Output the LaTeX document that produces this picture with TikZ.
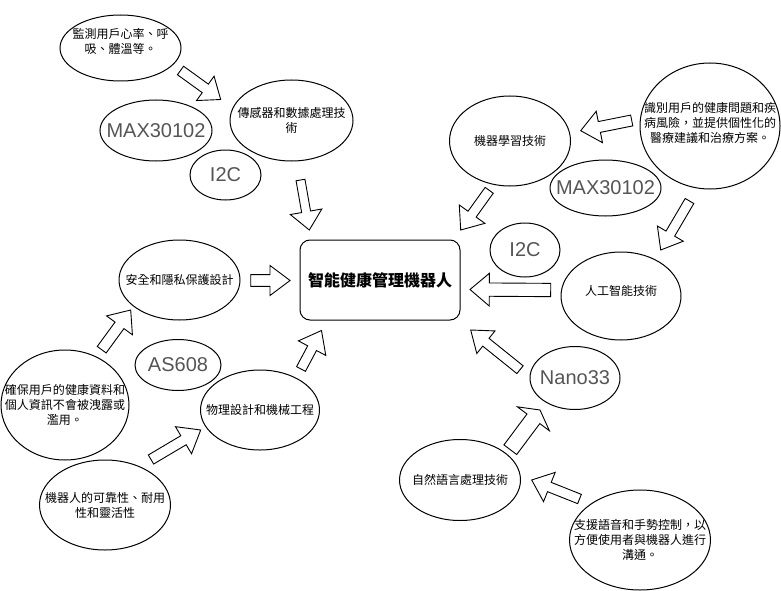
\documentclass[tikz,border=0pt]{standalone}
\usepackage{fontspec}
\setmainfont{Liberation Sans}
\newfontfamily\cjk{Noto Sans CJK TC}
\usetikzlibrary{shapes.geometric,calc}
\definecolor{codegray}{HTML}{555555}
\newcommand\blockarrow[5]{%
  \coordinate (bah) at ($(#2)!#5pt!(#1)$);
  \draw[barrow] ($(#1)!#3*0.5pt!90:(#2)$) -- ($(bah)!#3*0.5pt!90:(#2)$)
    -- ($(bah)!#4*0.5pt!90:(#2)$) -- (#2) -- ($(bah)!#4*0.5pt!-90:(#2)$)
    -- ($(bah)!#3*0.5pt!-90:(#2)$) -- ($(#1)!#3*0.5pt!-90:(#2)$) -- cycle;}
\begin{document}
\begin{tikzpicture}[x=1pt,y=-1pt,
  ell/.style={draw=black, line width=1pt, ellipse, inner sep=0pt},
  txt/.style={font=\cjk\fontsize{12}{15}\selectfont, align=center, inner sep=0pt, text=black},
  code/.style={font=\fontsize{20}{24}\selectfont, text=codegray, inner sep=0pt},
  barrow/.style={draw=black, fill=white, line width=0.9pt, line join=miter}]
\useasboundingbox (0,0) rectangle (781,591);

% ellipses
\node[ell, minimum width=121pt, minimum height=66pt,
  label={[txt,yshift=7pt]center:{監測用戶心率、呼\\吸、體溫等。}}] (e1) at (120.5,48) {};
\node[ell, minimum width=123pt, minimum height=81pt,
  label={[txt]center:{傳感器和數據處理技\\術}}] (e2) at (291.5,120.5) {};
\node[ell, minimum width=112pt, minimum height=61pt,
  label={[code]center:MAX30102}] (m1) at (156,130.5) {};
\node[ell, minimum width=71pt, minimum height=50pt,
  label={[code]center:I2C}] (i1) at (225.5,175) {};
\node[ell, minimum width=121pt, minimum height=80pt,
  label={[txt]center:{安全和隱私保護設計}}] (e5) at (179.5,280) {};
\node[ell, minimum width=121pt, minimum height=90pt,
  label={[txt]center:{機器學習技術}}] (e7) at (510,141) {};
\node[ell, minimum width=140pt, minimum height=126pt,
  label={[txt,yshift=3pt]center:{識別用戶的健康問題和疾\\病風險，並提供個性化的\\醫療建議和治療方案。}}] (e8) at (710,126) {};
\node[ell, minimum width=111pt, minimum height=56pt,
  label={[code]center:MAX30102}] (m2) at (605.5,188) {};
\node[ell, minimum width=70pt, minimum height=54pt,
  label={[code]center:I2C}] (i2) at (525,250) {};
\node[ell, minimum width=120pt, minimum height=88pt,
  label={[txt,yshift=5pt]center:{人工智能技術}}] (e11) at (621,296) {};
\node[ell, minimum width=128pt, minimum height=110pt,
  label={[txt]center:{確保用戶的健康資料和\\個人資訊不會被洩露或\\濫用。}}] (e12) at (65,405) {};
\node[ell, minimum width=86pt, minimum height=51pt,
  label={[code]center:AS608}] (a1) at (178,365) {};
\node[ell, minimum width=119pt, minimum height=80pt,
  label={[txt]center:{物理設計和機械工程}}] (e14) at (260,410) {};
\node[ell, minimum width=131pt, minimum height=90pt,
  label={[txt]center:{機器人的可靠性、耐用\\性和靈活性}}] (e15) at (105,505) {};
\node[ell, minimum width=90pt, minimum height=63pt,
  label={[code]center:Nano33}] (n1) at (575,378) {};
\node[ell, minimum width=121pt, minimum height=81pt,
  label={[txt]center:{自然語言處理技術}}] (e17) at (460,480) {};
\node[ell, minimum width=141pt, minimum height=100pt,
  label={[txt]center:{支援語音和手勢控制，以\\方便使用者與機器人進行\\溝通。}}] (e18) at (640,540) {};

% centre box
\node[draw=black, line width=1pt, rounded corners=10pt, minimum width=160pt, minimum height=80pt,
  font=\cjk\bfseries\fontsize{16}{19}\selectfont] (c) at (380,280) {智能健康管理機器人};

% arrow end points
\coordinate (At) at (180.5,70.5);  \coordinate (Ah) at (220.7,99.5);
\coordinate (Bt) at (300.5,180);   \coordinate (Bh) at (309.3,230);
\coordinate (Ct) at (250.7,280.5); \coordinate (Ch) at (290,280.5);
\coordinate (Dt) at (101.7,349.7); \coordinate (Dh) at (130.7,310);
\coordinate (Et) at (151,459.5);   \coordinate (Eh) at (200.7,430);
\coordinate (Ft) at (301,369);     \coordinate (Fh) at (321.5,330.5);
\coordinate (Gt) at (631.7,120.5); \coordinate (Gh) at (580.7,130.7);
\coordinate (Ht) at (489.2,190.3); \coordinate (Hh) at (460.7,230);
\coordinate (It) at (689.5,201);   \coordinate (Ih) at (660.7,250);
\coordinate (Jt) at (550.7,290);   \coordinate (Jh) at (470,289.5);
\coordinate (Kt) at (520,369.7);   \coordinate (Kh) at (470.7,330);
\coordinate (Lt) at (510.3,449.7); \coordinate (Lh) at (540,410);
\coordinate (Mt) at (579.5,499);   \coordinate (Mh) at (531.7,480);

% block arrows: tail, tip, shaft width, head width, head length
\blockarrow{At}{Ah}{10.5}{30}{19}
\blockarrow{Bt}{Bh}{9}{32}{18.5}
\blockarrow{Ct}{Ch}{11.7}{30}{20}
\blockarrow{Dt}{Dh}{11}{32}{19}
\blockarrow{Et}{Eh}{10.5}{31.5}{20}
\blockarrow{Ft}{Fh}{10}{31}{20}
\blockarrow{Gt}{Gh}{11}{32}{19}
\blockarrow{Ht}{Hh}{10}{31.5}{19.5}
\blockarrow{It}{Ih}{10}{30}{19}
\blockarrow{Jt}{Jh}{13.3}{32.7}{19.3}
\blockarrow{Kt}{Kh}{10}{29}{19.5}
\blockarrow{Lt}{Lh}{16}{40}{11}
\blockarrow{Mt}{Mh}{10}{31.5}{19}
\end{tikzpicture}
\end{document}
